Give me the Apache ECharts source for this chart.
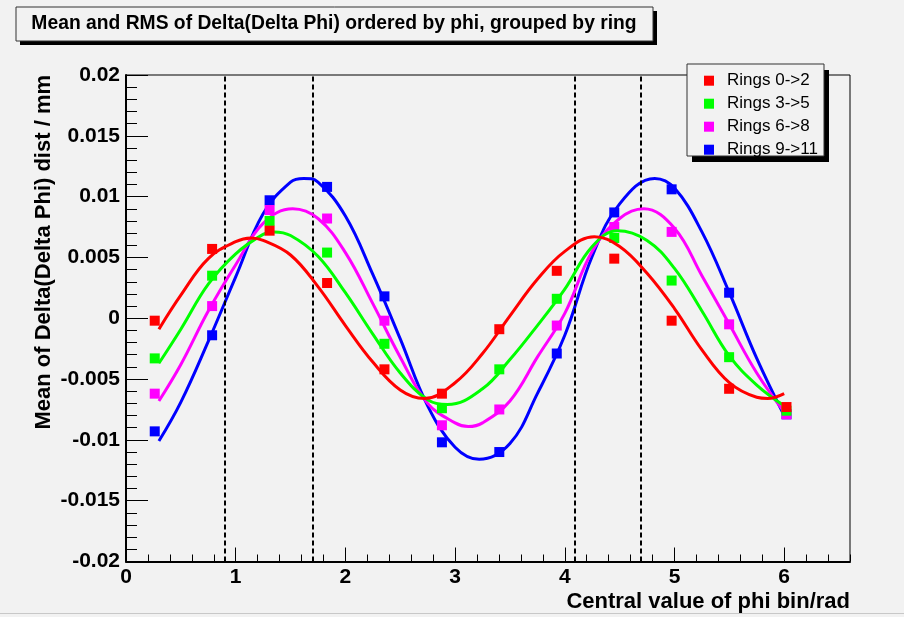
<!DOCTYPE html>
<html>
<head>
<meta charset="utf-8">
<title>Mean and RMS of Delta(Delta Phi)</title>
<script src="https://cdn.jsdelivr.net/npm/echarts@6/dist/echarts.min.js"></script>
<style>
  html, body { margin: 0; padding: 0; background: #f2f2f2; }
  #main { width: 904px; height: 617px; }
</style>
</head>
<body>
<div id="main"></div>
<script>
// centres of the phi bins (rad)
const phiBins = [0.262, 0.785, 1.309, 1.833, 2.356, 2.880, 3.403, 3.927, 4.451, 4.974, 5.498, 6.021];

// measured means per ring group
const rings0to2 = [-0.0002, 0.0057, 0.0072, 0.0029, -0.0042, -0.0062, -0.0009, 0.0039, 0.0049, -0.0002, -0.0058, -0.0073];
const rings3to5 = [-0.0033, 0.0035, 0.0080, 0.0054, -0.0021, -0.0074, -0.0042, 0.0016, 0.0066, 0.0031, -0.0032, -0.0076];
const rings6to8 = [-0.0062, 0.0010, 0.0089, 0.0082, -0.0002, -0.0088, -0.0075, -0.0006, 0.0075, 0.0071, -0.0005, -0.0079];
const rings9to11 = [-0.0093, -0.0014, 0.0097, 0.0108, 0.0018, -0.0102, -0.0110, -0.0029, 0.0087, 0.0106, 0.0021, -0.0079];

// fitted curves (extrema included so the peaks stay round)
const fitX0to2 = [0.3, 0.5, 0.75, 1.0, 1.14, 1.25, 1.5, 1.75, 2.0, 2.25, 2.5, 2.72, 3.0, 3.25, 3.5, 3.75, 4.0, 4.27, 4.5, 4.75, 5.0, 5.25, 5.5, 5.75, 5.85, 6.0];
const fitY0to2 = [-0.0009, 0.0019, 0.0049, 0.0063, 0.0066, 0.0064, 0.0052, 0.0026, -0.0006, -0.0036, -0.0059, -0.0066, -0.0053, -0.0029, 0.0002, 0.0032, 0.0055, 0.0067, 0.0059, 0.0037, 0.0008, -0.0026, -0.0053, -0.0065, -0.0066, -0.0062];

const fitX3to5 = [0.3, 0.5, 0.75, 1.0, 1.25, 1.35, 1.5, 1.75, 2.0, 2.25, 2.5, 2.75, 2.93, 3.25, 3.5, 3.75, 4.0, 4.25, 4.48, 4.75, 5.0, 5.25, 5.5, 5.75, 6.0];
const fitY3to5 = [-0.0037, -0.0009, 0.0028, 0.0053, 0.0069, 0.0071, 0.0068, 0.0051, 0.0021, -0.0013, -0.0045, -0.0067, -0.0071, -0.0058, -0.0034, -0.0006, 0.0024, 0.0059, 0.0072, 0.0064, 0.0041, 0.0006, -0.0031, -0.0055, -0.0072];

const fitX6to8 = [0.3, 0.5, 0.75, 1.0, 1.25, 1.52, 1.75, 2.0, 2.25, 2.5, 2.75, 3.0, 3.12, 3.25, 3.5, 3.75, 4.0, 4.25, 4.5, 4.72, 5.0, 5.25, 5.5, 5.75, 6.0];
const fitY6to8 = [-0.0068, -0.0038, 0.0006, 0.0044, 0.0078, 0.0090, 0.0082, 0.0054, 0.0012, -0.0032, -0.0070, -0.0086, -0.0089, -0.0086, -0.0068, -0.0032, 0.0004, 0.0055, 0.0082, 0.0090, 0.0074, 0.0035, -0.0005, -0.0045, -0.0077];

const fitX9to11 = [0.3, 0.5, 0.75, 1.0, 1.25, 1.5, 1.62, 1.75, 2.0, 2.25, 2.5, 2.75, 3.0, 3.22, 3.5, 3.75, 4.0, 4.25, 4.5, 4.82, 5.0, 5.25, 5.5, 5.75, 6.0];
const fitY9to11 = [-0.0101, -0.0069, -0.0019, 0.0034, 0.0086, 0.0112, 0.0115, 0.0112, 0.0084, 0.0036, -0.0017, -0.0072, -0.0106, -0.0116, -0.0103, -0.0062, -0.0014, 0.0051, 0.0094, 0.0115, 0.0107, 0.0071, 0.0021, -0.0033, -0.0080];

// vertical dashed markers
const dashedX = [0.9, 1.7, 4.09, 4.69];

const FONT = "'Liberation Sans', Arial, Helvetica, sans-serif";
const BG = "#f2f2f2";

// drawn in this order: blue first, red last (on top)
const groups = [
  { name: "Rings 9->11", color: "#0000ff", pts: rings9to11, fx: fitX9to11, fy: fitY9to11 },
  { name: "Rings 6->8", color: "#ff00ff", pts: rings6to8, fx: fitX6to8, fy: fitY6to8 },
  { name: "Rings 3->5", color: "#00ff00", pts: rings3to5, fx: fitX3to5, fy: fitY3to5 },
  { name: "Rings 0->2", color: "#ff0000", pts: rings0to2, fx: fitX0to2, fy: fitY0to2 }
];

const series = [];
groups.forEach((g, gi) => {
  series.push({
    name: g.name,
    type: "scatter",
    symbol: "rect",
    symbolSize: 10,
    itemStyle: { color: g.color, opacity: 1 },
    data: phiBins.map((x, i) => [x, g.pts[i]]),
    z: 2 + gi * 2,
    markLine: gi === 0 ? {
      silent: true,
      symbol: ["none", "none"],
      label: { show: false },
      lineStyle: { color: "#000", width: 2, type: [5, 3] },
      data: dashedX.map(v => ({ xAxis: v }))
    } : undefined
  });
  series.push({
    name: g.name + " fit",
    type: "line",
    smooth: 0.4,
    showSymbol: false,
    lineStyle: { color: g.color, width: 3 },
    data: g.fx.map((x, i) => [x, g.fy[i]]),
    z: 3 + gi * 2
  });
});

const chart = echarts.init(document.getElementById("main"));
chart.setOption({
  backgroundColor: BG,
  animation: false,
  textStyle: { fontFamily: FONT },
  grid: {
    left: 126, right: 54, top: 75, bottom: 55.5,
    show: true, borderColor: "#000", borderWidth: 1, backgroundColor: "transparent"
  },
  legend: {
    data: ["Rings 0->2", "Rings 3->5", "Rings 6->8", "Rings 9->11"],
    orient: "vertical",
    left: 699,
    top: 65.7,
    icon: "rect",
    itemWidth: 10,
    itemHeight: 10,
    itemGap: 3,
    selectedMode: false,
    textStyle: { fontFamily: FONT, fontSize: 17, color: "#000", lineHeight: 20, padding: [0, 0, 0, 8] }
  },
  xAxis: [
    {
      type: "value",
      min: 0, max: 6.6, interval: 1,
      axisLine: { onZero: false, lineStyle: { color: "#000", width: 2 } },
      axisTick: { inside: true, length: 14, lineStyle: { color: "#000", width: 1 } },
      axisLabel: { showMaxLabel: false, color: "#000", fontSize: 21, fontWeight: "bold", fontFamily: FONT, margin: 5 },
      splitLine: { show: false }
    },
    {
      type: "value",
      min: 0, max: 6.6, interval: 0.2,
      position: "bottom",
      axisLine: { show: false, onZero: false },
      axisTick: { inside: true, length: 7, lineStyle: { color: "#000", width: 1 } },
      axisLabel: { show: false },
      splitLine: { show: false }
    }
  ],
  yAxis: {
    type: "value",
    min: -0.02, max: 0.02, interval: 0.005,
    axisLine: { show: true, onZero: false, lineStyle: { color: "#000", width: 2 } },
    axisTick: { show: true, inside: true, length: 22, lineStyle: { color: "#000", width: 1 } },
    minorTick: { show: true, splitNumber: 5, length: 11, lineStyle: { color: "#000", width: 1 } },
    axisLabel: { color: "#000", fontSize: 21, fontWeight: "bold", fontFamily: FONT, margin: 6 },
    splitLine: { show: false },
    minorSplitLine: { show: false }
  },
  graphic: [
    // title box with shadow
    { type: "rect", shape: { x: 20, y: 11, width: 637, height: 34 }, style: { fill: "#000" }, z: 1 },
    { type: "rect", shape: { x: 16, y: 7, width: 637, height: 34 }, style: { fill: BG, stroke: "#333", lineWidth: 1 }, z: 2 },
    {
      type: "text", x: 334, y: 24, z: 3,
      style: { text: "Mean and RMS of Delta(Delta Phi) ordered by phi, grouped by ring", font: "bold 19.3px " + FONT, fill: "#000", align: "center", verticalAlign: "middle" }
    },
    // legend box with shadow
    { type: "rect", shape: { x: 692, y: 70, width: 137, height: 92 }, style: { fill: "#000" }, z: 1 },
    { type: "rect", shape: { x: 687, y: 64, width: 137, height: 92 }, style: { fill: BG, stroke: "#333", lineWidth: 1 }, z: 2 },
    // axis titles
    {
      type: "text", x: 850, y: 602, z: 3,
      style: { text: "Central value of phi bin/rad", font: "bold 22px " + FONT, fill: "#000", align: "right", verticalAlign: "middle" }
    },
    {
      type: "text", x: 44, y: 75, rotation: Math.PI / 2, z: 3,
      style: { text: "Mean of Delta(Delta Phi) dist / mm", font: "bold 22px " + FONT, fill: "#000", align: "right", verticalAlign: "middle" }
    },
    // canvas bottom edge
    { type: "line", shape: { x1: 0, y1: 613.5, x2: 904, y2: 613.5 }, style: { stroke: "#c8c8c8", lineWidth: 1 } }
  ],
  series: series
});
</script>
</body>
</html>
